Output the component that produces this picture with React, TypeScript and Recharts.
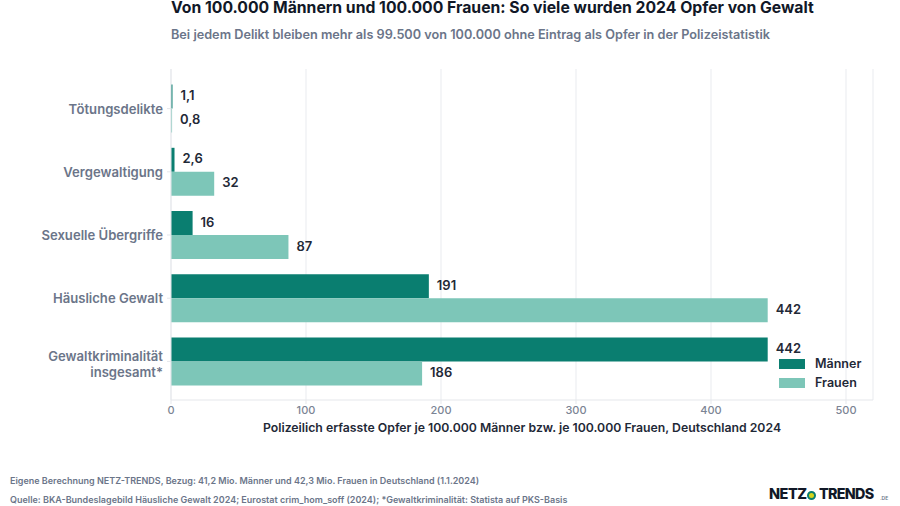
import React from "react";
import {
    Bar,
    BarChart,
    CartesianGrid,
    LabelList,
    Legend,
    Text,
    XAxis,
    YAxis,
} from "recharts";

const categories = [
    "Tötungsdelikte",
    "Vergewaltigung",
    "Sexuelle Übergriffe",
    "Häusliche Gewalt",
    "Gewaltkriminalität insgesamt*",
];
const maenner = [1.1, 2.6, 16, 191, 442];
const frauen = [0.8, 32, 87, 442, 186];
const xTicks = [0, 100, 200, 300, 400, 500];

const data = categories.map((name, i) => ({
    name,
    maenner: maenner[i],
    frauen: frauen[i],
}));

const FONT = "Inter, sans-serif";
const GREY = "#6b7589";
const formatValue = (v: any) => String(v).replace(".", ",");

const abs = (left: number, top: number, extra: React.CSSProperties) => (
    {
        position: "absolute",
        left,
        top,
        whiteSpace: "nowrap",
        fontFamily: FONT,
        ...extra,
    } as React.CSSProperties
);

const LegendBox = ({ payload }: any) => (
    <div style={{ fontFamily: FONT }}>
        {(payload || []).map((p: any) => (
            <div
                key={p.value}
                style={{ display: "flex", alignItems: "center", height: 19 }}
            >
                <span
                    style={{
                        width: 26,
                        height: 10,
                        background: p.color,
                        marginRight: 10,
                    }}
                />
                <span style={{ fontSize: 12.5, fontWeight: 600, color: "#1f2937" }}>
                    {p.value}
                </span>
            </div>
        ))}
    </div>
);

// recharts ignores lineHeight on the tick object, so wrap the label here.
// Single lines come out about 4px high with a px lineHeight, hence the nudge.
const CategoryTick = ({ x, y, payload }: any) => (
    <Text
        x={x}
        y={y + (payload.value.length > 22 ? 0 : 5)}
        width={130}
        textAnchor="end"
        verticalAnchor="middle"
        lineHeight="16px"
        fontFamily={FONT}
        fontSize={13.1}
        fontWeight={600}
        fill={GREY}
    >
        {payload.value}
    </Text>
);

export default function App() {
    return (
        <div
            style={{
                position: "absolute",
                left: 0,
                top: 0,
                width: 900,
                height: 506,
                background: "#fff",
                overflow: "hidden",
            }}
        >
            <div style={abs(171, 0, { fontSize: 15.75, fontWeight: 700, color: "#111827", lineHeight: "16px" })}>
                Von 100.000 Männern und 100.000 Frauen: So viele wurden 2024 Opfer von Gewalt
            </div>
            <div style={abs(171, 27, { fontSize: 12.7, fontWeight: 600, color: GREY, lineHeight: "16px" })}>
                Bei jedem Delikt bleiben mehr als 99.500 von 100.000 ohne Eintrag als Opfer in der Polizeistatistik
            </div>

            <BarChart
                width={900}
                height={506}
                data={data}
                layout="vertical"
                barCategoryGap={7.6}
                barGap={0}
                margin={{ top: 69, right: 27, bottom: 76, left: 36 }}
            >
                <CartesianGrid
                    horizontal={false}
                    stroke="#f1f2f4"
                    strokeWidth={1.5}
                />
                <XAxis
                    type="number"
                    domain={[0, 520]}
                    ticks={xTicks}
                    height={30}
                    stroke="#e5e7eb"
                    tickSize={4}
                    tick={{ fontFamily: FONT, fontSize: 11, fontWeight: 500, fill: "#7b8494" }}
                    label={{
                        value: "Polizeilich erfasste Opfer je 100.000 Männer bzw. je 100.000 Frauen, Deutschland 2024",
                        position: "insideBottom",
                        offset: -2,
                        style: { fontFamily: FONT, fontSize: 12.25, fontWeight: 600, fill: "#1f2937" },
                    }}
                />
                <YAxis
                    type="category"
                    dataKey="name"
                    width={135}
                    interval={0}
                    padding={{ top: 8, bottom: 7 }}
                    stroke="#e5e7eb"
                    tickSize={4}
                    tickMargin={4}
                    tick={<CategoryTick />}
                />
                <Legend
                    verticalAlign="middle"
                    align="center"
                    layout="vertical"
                    itemSorter={null}
                    content={<LegendBox />}
                    wrapperStyle={{ left: 779, top: 354, width: 100 }}
                />
                <Bar
                    dataKey="maenner"
                    name="Männer"
                    fill="#0a7e70"
                    isAnimationActive={false}
                >
                    <LabelList
                        dataKey="maenner"
                        position="right"
                        offset={8}
                        dy={-1}
                        formatter={formatValue}
                        style={{ fontFamily: FONT, fontSize: 13, fontWeight: 600, fill: "#1f2937" }}
                    />
                </Bar>
                <Bar
                    dataKey="frauen"
                    name="Frauen"
                    fill="#7dc6b8"
                    isAnimationActive={false}
                >
                    <LabelList
                        dataKey="frauen"
                        position="right"
                        offset={8}
                        dy={-1}
                        formatter={formatValue}
                        style={{ fontFamily: FONT, fontSize: 13, fontWeight: 600, fill: "#1f2937" }}
                    />
                </Bar>
            </BarChart>

            <div style={abs(10, 475, { fontSize: 9, fontWeight: 600, color: GREY, lineHeight: "12px" })}>
                Eigene Berechnung NETZ-TRENDS, Bezug: 41,2 Mio. Männer und 42,3 Mio. Frauen in Deutschland (1.1.2024)
            </div>
            <div style={abs(10, 494, { fontSize: 9, fontWeight: 600, color: GREY, lineHeight: "12px" })}>
                Quelle: BKA-Bundeslagebild Häusliche Gewalt 2024; Eurostat crim_hom_soff (2024); *Gewaltkriminalität: Statista auf PKS-Basis
            </div>
            <div style={abs(769, 487, { fontSize: 14.5, fontWeight: 800, color: "#111827", lineHeight: "14px", letterSpacing: -0.5 })}>
                NETZ
            </div>
            <div
                style={{
                    position: "absolute",
                    left: 807,
                    top: 491,
                    width: 5,
                    height: 5,
                    borderRadius: "50%",
                    background: "#d4d41c",
                    border: "2px solid #0a7e70",
                }}
            />
            <div style={abs(819, 487, { fontSize: 14.3, fontWeight: 800, color: "#111827", lineHeight: "14px", letterSpacing: -0.7 })}>
                TRENDS
            </div>
            <div style={abs(880, 494, { fontSize: 5, fontWeight: 600, color: GREY, lineHeight: "8px" })}>
                .DE
            </div>
        </div>
    );
}
